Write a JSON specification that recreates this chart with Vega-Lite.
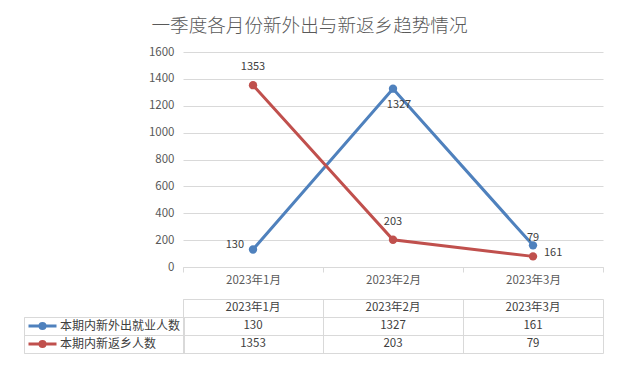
{
  "$schema": "https://vega.github.io/schema/vega-lite/v6.json",
  "background": "white",
  "padding": {"left": 23, "top": 17, "right": 15, "bottom": 10},
  "title": {"text": "一季度各月份新外出与新返乡趋势情况", "fontSize": 18.6, "font": "Noto Sans CJK SC", "fontWeight": 300, "color": "#595959", "anchor": "middle", "offset": 10, "dx": -4},
  "config": {"font": "Noto Sans CJK SC", "view": {"stroke": null}},
  "datasets": {
    "d": [
      {"month": "2023年1月", "series": "本期内新外出就业人数", "value": 130},
      {"month": "2023年2月", "series": "本期内新外出就业人数", "value": 1327},
      {"month": "2023年3月", "series": "本期内新外出就业人数", "value": 161},
      {"month": "2023年1月", "series": "本期内新返乡人数", "value": 1353},
      {"month": "2023年2月", "series": "本期内新返乡人数", "value": 203},
      {"month": "2023年3月", "series": "本期内新返乡人数", "value": 79}
    ]
  },
  "data": {"name": "d"},
  "spacing": 12,
  "resolve": {"scale": {"color": "independent"}, "legend": {"color": "independent"}},
  "vconcat": [
    {
      "width": 420,
      "height": 215,
      "encoding": {
        "x": {"field": "month", "type": "nominal", "bandPosition": 0.5,
          "scale": {"type": "band", "domain": ["2023年1月", "2023年2月", "2023年3月"], "paddingInner": 0, "paddingOuter": 0},
          "axis": {"title": null, "labelAngle": 0, "tickBand": "extent", "tickSize": 5, "tickColor": "#d9d9d9", "domainColor": "#d9d9d9", "labelColor": "#595959", "labelFontSize": 11.5, "labelPadding": 2, "grid": false}},
        "y": {"field": "value", "type": "quantitative",
          "scale": {"domain": [0, 1600], "nice": false},
          "axis": {"title": null, "format": "d", "values": [0, 200, 400, 600, 800, 1000, 1200, 1400, 1600], "domain": false, "ticks": false, "gridColor": "#d9d9d9", "labelColor": "#595959", "labelFontSize": 11.5, "labelPadding": 9}},
        "color": {"field": "series", "type": "nominal",
          "scale": {"domain": ["本期内新外出就业人数", "本期内新返乡人数"], "range": ["#4F81BD", "#C0504D"]},
          "legend": null}
      },
      "layer": [
        {"mark": {"type": "line", "strokeWidth": 3, "point": {"filled": true, "size": 70}}},
        {"transform": [{"filter": "datum.series === '本期内新返乡人数'"}],
          "mark": {"type": "text", "dy": -18, "fontSize": 11},
          "encoding": {"text": {"field": "value"}, "color": {"value": "#404040"}}},
        {"transform": [{"filter": "datum.series === '本期内新外出就业人数' && datum.month === '2023年1月'"}],
          "mark": {"type": "text", "align": "right", "dx": -9, "dy": -5, "fontSize": 11},
          "encoding": {"text": {"field": "value"}, "color": {"value": "#404040"}}},
        {"transform": [{"filter": "datum.series === '本期内新外出就业人数' && datum.month === '2023年2月'"}],
          "mark": {"type": "text", "dx": 6, "dy": 16, "fontSize": 11},
          "encoding": {"text": {"field": "value"}, "color": {"value": "#404040"}}},
        {"transform": [{"filter": "datum.series === '本期内新外出就业人数' && datum.month === '2023年3月'"}],
          "mark": {"type": "text", "align": "left", "dx": 11, "dy": 8, "fontSize": 11},
          "encoding": {"text": {"field": "value"}, "color": {"value": "#404040"}}}
      ]
    },
    {
      "width": 420,
      "height": 54,
      "encoding": {
        "x": {"field": "month", "type": "nominal", "bandPosition": 0.5,
          "scale": {"type": "band", "domain": ["2023年1月", "2023年2月", "2023年3月"], "paddingInner": 0, "paddingOuter": 0},
          "axis": {"title": null, "labels": false, "ticks": false, "domain": false, "grid": true, "gridColor": "#d9d9d9", "tickBand": "extent"}},
        "y": {"field": "series", "type": "nominal", "bandPosition": 0.5,
          "scale": {"type": "band", "domain": ["月份", "本期内新外出就业人数", "本期内新返乡人数"], "paddingInner": 0, "paddingOuter": 0},
          "axis": {"title": null, "labels": false, "domain": true, "domainColor": "#d9d9d9", "ticks": true, "tickSize": 159, "tickBand": "extent",
            "tickColor": {"condition": {"test": "!isValid(datum.value)", "value": "transparent"}, "value": "#d9d9d9"},
            "grid": true, "gridColor": "#d9d9d9"}}
      },
      "layer": [
        {"transform": [{"filter": "datum.series === '本期内新外出就业人数'"}],
          "mark": {"type": "text", "fontSize": 11.5, "color": "#404040"},
          "encoding": {"y": {"datum": "月份", "type": "nominal"}, "text": {"field": "month"}}},
        {"mark": {"type": "text", "fontSize": 11.5, "color": "#404040"},
          "encoding": {"text": {"field": "value"}}},
        {"mark": {"type": "point", "size": 0, "filled": false},
          "encoding": {"color": {"field": "series", "type": "nominal",
            "scale": {"domain": ["本期内新外出就业人数", "本期内新返乡人数"], "range": ["#4F81BD", "#C0504D"]},
            "legend": {"orient": "none", "legendX": -159, "legendY": 18, "title": null,
              "symbolType": "M-1,0H1M-0.18,0A0.18,0.18,0,1,0,0.18,0A0.18,0.18,0,1,0,-0.18,0",
              "symbolSize": 784, "symbolStrokeWidth": 3, "symbolOpacity": 1, "clipHeight": 12,
              "labelFontSize": 12, "labelColor": "#404040", "labelLimit": 300, "labelOffset": 2,
              "strokeColor": "#d9d9d9", "padding": 3, "rowPadding": 6}}}}
      ]
    }
  ]
}
